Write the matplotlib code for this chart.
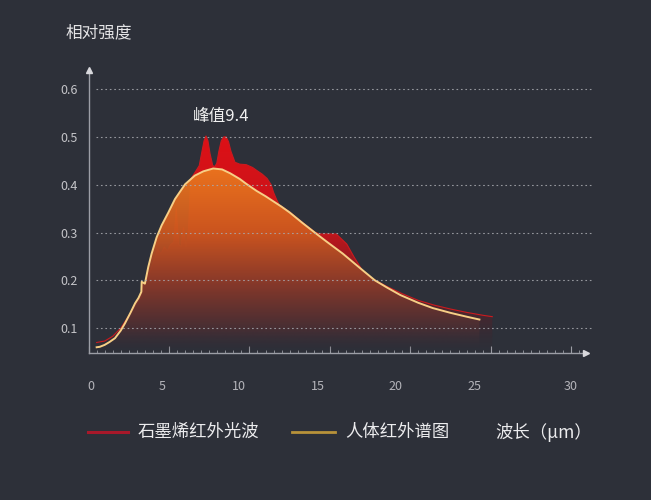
import numpy as np
import matplotlib
matplotlib.use("Agg")
import matplotlib.pyplot as plt
from matplotlib.colors import LinearSegmentedColormap
from matplotlib.transforms import blended_transform_factory
from matplotlib.lines import Line2D

plt.rcParams['font.family'] = ['Noto Sans CJK SC', 'DejaVu Sans']

# ---------------- data ----------------
human_x = [0.5, 0.7, 1.0, 1.3, 1.64, 2.0, 2.26, 2.6, 2.89, 3.1, 3.28, 3.3, 3.5, 3.71, 3.92,
           4.23, 4.54, 4.96, 5.37, 6.0, 6.6, 7.13, 7.75, 8.3, 8.8, 9.4, 9.8, 10.45, 11.0,
           11.5, 12.0, 12.5, 13.3, 14.1, 14.8, 15.8, 16.9, 17.8, 18.6, 19.4, 20.5, 21.4,
           22.5, 23.5, 24.3]
human_y = [0.060, 0.061, 0.065, 0.071, 0.079, 0.095, 0.110, 0.132, 0.152, 0.163, 0.176, 0.197,
           0.193, 0.228, 0.256, 0.290, 0.315, 0.342, 0.370, 0.401, 0.419, 0.428, 0.434, 0.432,
           0.424, 0.412, 0.402, 0.387, 0.376, 0.365, 0.354, 0.342, 0.320, 0.299, 0.281, 0.256,
           0.225, 0.200, 0.184, 0.169, 0.153, 0.142, 0.132, 0.124, 0.118]

graphene_x = [0.5, 1.0, 1.5, 2.0, 2.5, 3.0, 3.25, 3.35, 3.6, 3.9, 4.1, 4.3, 4.5, 4.7, 4.9,
              5.1, 5.3, 5.45, 5.6, 5.75, 5.9, 6.05, 6.2, 6.35, 6.6, 6.88, 7.05, 7.18, 7.3,
              7.42, 7.55, 7.72, 7.85, 7.97, 8.1, 8.25, 8.4, 8.55, 8.7, 8.85, 9.1, 9.4, 9.8,
              10.2, 10.45, 10.8, 11.1, 11.35, 11.5, 11.7, 11.85, 12.5, 13.3, 14.1, 14.4,
              15.4, 16.05, 16.5, 17.0, 17.4, 18.5, 19.5, 20.5, 21.5, 22.5, 23.5, 24.5, 25.1]
graphene_y = [0.070, 0.073, 0.083, 0.100, 0.126, 0.152, 0.165, 0.185, 0.200, 0.225, 0.245,
              0.265, 0.255, 0.270, 0.262, 0.275, 0.280, 0.350, 0.275, 0.270, 0.310, 0.270,
              0.300, 0.412, 0.425, 0.440, 0.470, 0.492, 0.502, 0.492, 0.465, 0.440, 0.438,
              0.445, 0.470, 0.492, 0.500, 0.500, 0.490, 0.470, 0.447, 0.443, 0.442, 0.436,
              0.430, 0.422, 0.413, 0.400, 0.384, 0.368, 0.358, 0.343, 0.321, 0.300, 0.297,
              0.297, 0.276, 0.249, 0.222, 0.208, 0.188, 0.172, 0.158, 0.148, 0.140, 0.133,
              0.127, 0.124]

y_ticks = [0.1, 0.2, 0.3, 0.4, 0.5, 0.6]
y_ticklabels = ['0.1', '0.2', '0.3', '0.4', '0.5', '0.6']
x_ticks = [0, 5, 10, 15, 20, 25, 30]
x_ticklabels = ['0', '5', '10', '15', '20', '25', '30']
x_ticklabel_pos = [0.15, 4.6, 9.35, 14.27, 19.1, 24.0, 30.0]

peak_label = '峰值9.4'
peak_label_pos = (8.23, 0.542)
legend_names = ['石墨烯红外光波', '人体红外谱图']
xlabel = '波长（μm）'
ylabel = '相对强度'

# ---------------- style ----------------
BG = '#2d3039'
YMIN, YMAX = 0.048, 0.64
XMIN, XMAX = 0.0, 31.3

fig = plt.figure(figsize=(6.51, 5.0), dpi=100, facecolor=BG)
ax = fig.add_axes([88.6 / 651, 1 - 353 / 500, (592 - 88.6) / 651, (353 - 70) / 500])
ax.set_facecolor(BG)


def gradient_fill(ax, x, y, stops, zorder):
    x = np.asarray(x)
    y = np.asarray(y)
    poly = ax.fill_between(x, y, YMIN, facecolor='none', edgecolor='none')
    path = poly.get_paths()[0]
    ytop = y.max()
    cmap = LinearSegmentedColormap.from_list(
        'g', [((yy - YMIN) / (ytop - YMIN), tuple(c / 255 for c in rgb) + (a,))
              for yy, rgb, a in stops])
    grad = np.linspace(0, 1, 256).reshape(-1, 1)
    im = ax.imshow(grad, cmap=cmap, aspect='auto', origin='lower',
                   extent=[x.min(), x.max(), YMIN, ytop], zorder=zorder,
                   interpolation='bilinear')
    im.set_clip_path(path, transform=ax.transData)
    return im


red_stops = [(YMIN, (60, 30, 40), 0.0), (0.2, (150, 25, 30), 0.8),
             (0.3, (195, 22, 28), 1.0), (0.502, (222, 16, 22), 1.0)]
orange_stops = [(YMIN, (45, 48, 57), 0.0), (0.1, (78, 48, 52), 0.75),
                (0.2, (140, 60, 42), 0.95), (0.3, (204, 88, 32), 0.95),
                (0.434, (236, 120, 30), 0.95)]

gradient_fill(ax, graphene_x, graphene_y, red_stops, zorder=2)
ax.plot(graphene_x, graphene_y, color='#cc1a1e', lw=0.8, zorder=2.5)
gradient_fill(ax, human_x, human_y, orange_stops, zorder=3)
ax.plot(human_x, human_y, color='#f7cf86', lw=1.4, zorder=4)

# grid lines
ax.hlines(y_ticks, 0.46, XMAX, colors='#a8aab0', linestyles=(0, (1.5, 2.5)),
          lw=0.8, zorder=5, alpha=0.85)

ax.set_xlim(XMIN, XMAX)
ax.set_ylim(YMIN, YMAX)

for s in ['top', 'right']:
    ax.spines[s].set_visible(False)
for s in ['left', 'bottom']:
    ax.spines[s].set_color('#9c9ea6')
    ax.spines[s].set_linewidth(1.0)
ax.spines['bottom'].set_bounds(XMIN, 30.95)

ax.set_yticks(y_ticks)
ax.set_yticklabels(y_ticklabels)
ax.tick_params(axis='y', length=0, pad=8, labelsize=9, labelcolor='#c4c4c8')
ax.set_xticks(x_ticks)
ax.set_xticklabels([])
ax.set_xticks(np.arange(0, 31, 0.5), minor=True)
ax.tick_params(axis='x', which='major', direction='in', length=5, color='#9c9ea6', width=0.8)
ax.tick_params(axis='x', which='minor', direction='in', length=2, color='#9c9ea6', width=0.6)

# axis arrows
ax.plot([0], [1], marker='^', color='#d8d8dc', markersize=5, transform=ax.transAxes,
        clip_on=False, zorder=6)
ax.plot([30.95 / XMAX], [0], marker='>', color='#d8d8dc', markersize=5,
        transform=ax.transAxes, clip_on=False, zorder=6)

# x tick labels
tr = blended_transform_factory(ax.transData, fig.transFigure)
for lab, pos in zip(x_ticklabels, x_ticklabel_pos):
    ax.text(pos, 1 - 386 / 500, lab, transform=tr, ha='center', va='center',
            fontsize=9, color='#b4b4ba')

# peak label
ax.text(peak_label_pos[0], peak_label_pos[1], peak_label, ha='center', va='center',
        fontsize=12, color='#f0f0f0', zorder=7)

# title / y label
fig.text(66 / 651, 1 - 33 / 500, ylabel, ha='left', va='center', fontsize=12, color='#e4e4e6')

# legend
ly = 1 - 432 / 500
fig.add_artist(Line2D([88 / 651, 128 / 651], [ly, ly], color='#a8182a', lw=2.2))
fig.text(138 / 651, ly, legend_names[0], ha='left', va='center', fontsize=12.5, color='#ececee')
fig.add_artist(Line2D([292 / 651, 335 / 651], [ly, ly], color='#b8923a', lw=2.0))
fig.text(345 / 651, ly, legend_names[1], ha='left', va='center', fontsize=12.5, color='#ececee')
fig.text(495 / 651, ly, xlabel, ha='left', va='center', fontsize=12.5, color='#ececee')

fig.savefig('out.png', dpi=100, facecolor=BG)
